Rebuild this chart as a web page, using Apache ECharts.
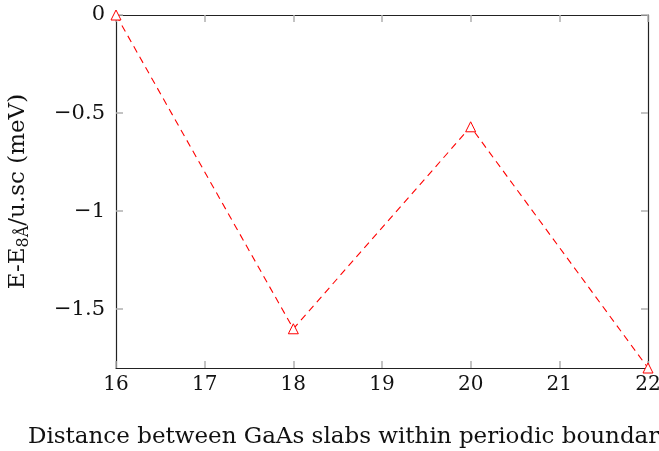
<!DOCTYPE html>
<html>
<head>
<meta charset="utf-8">
<script src="https://cdn.jsdelivr.net/npm/echarts@6/dist/echarts.min.js"></script>
<style>
  html, body { margin: 0; padding: 0; background: #fff; }
  #chart { width: 659px; height: 451px; }
</style>
</head>
<body>
<div id="chart"></div>
<script>
// Slab separation (Å) and relative energy per unit supercell (meV)
const distances = [16, 18, 20, 22];
const energies = [0, -1.6, -0.57, -1.8];
const xTicks = [16, 17, 18, 19, 20, 21, 22];
const yTicks = [0, -0.5, -1, -1.5];

const FONT = 'DejaVu Serif';
const chart = echarts.init(document.getElementById('chart'));

function fmtY(v) {
  if (v === 0) return '0';
  return String(v).replace('-', '\u2212');
}

const tickStyle = { show: true, inside: true, length: 7, lineStyle: { color: '#b0b0b0', width: 1.5 } };
const frameLine = { show: true, onZero: false, lineStyle: { color: '#222', width: 1.2 } };

chart.setOption({
  animation: false,
  backgroundColor: '#fff',
  grid: { left: 116, top: 15, right: 11, bottom: 83, containLabel: false, outerBoundsMode: 'none' },
  xAxis: [
    {
      type: 'value', min: xTicks[0], max: xTicks[xTicks.length - 1], interval: 1,
      axisLine: frameLine,
      axisTick: Object.assign({ customValues: xTicks }, tickStyle),
      splitLine: { show: false },
      axisLabel: { customValues: xTicks, margin: 7, fontFamily: FONT, fontSize: 20, color: '#111' },
      name: 'Distance between GaAs slabs within periodic boundaries (Å)',
      nameLocation: 'start', nameGap: 0,
      nameTextStyle: { fontFamily: FONT, fontSize: 23, color: '#111', align: 'left', verticalAlign: 'top', padding: [58, 0, 0, -88] }
    },
    {
      type: 'value', position: 'top', min: xTicks[0], max: xTicks[xTicks.length - 1], interval: 1,
      axisLine: frameLine,
      axisTick: Object.assign({ customValues: xTicks }, tickStyle),
      axisLabel: { show: false }, splitLine: { show: false }
    }
  ],
  yAxis: [
    {
      type: 'value', min: -1.8, max: 0,
      axisLine: frameLine,
      axisTick: Object.assign({ customValues: yTicks }, tickStyle),
      splitLine: { show: false },
      axisLabel: {
        customValues: yTicks,
        margin: 11, fontFamily: FONT, fontSize: 21, color: '#111',
        formatter: fmtY
      },
      name: '{m|E-E}{s|8Å}{m|/u.sc (meV)}',
      nameLocation: 'middle', nameGap: 84, nameRotate: 90,
      nameTextStyle: {
        fontFamily: FONT, color: '#111',
        rich: {
          m: { fontFamily: FONT, fontSize: 23, color: '#111' },
          s: { fontFamily: FONT, fontSize: 16, color: '#111', padding: [12, 0, 0, 0] }
        }
      }
    },
    {
      type: 'value', position: 'right', min: -1.8, max: 0,
      axisLine: frameLine,
      axisTick: Object.assign({ customValues: yTicks }, tickStyle),
      axisLabel: { show: false }, splitLine: { show: false }
    }
  ],
  series: [{
    type: 'line',
    data: distances.map((d, i) => [d, energies[i]]),
    symbol: 'triangle', symbolSize: 10,
    itemStyle: { color: '#fff', borderColor: '#ff0000', borderWidth: 1 },
    lineStyle: { color: '#ff0000', width: 1.1, type: [7, 5] },
    clip: false
  }]
});
</script>
</body>
</html>
